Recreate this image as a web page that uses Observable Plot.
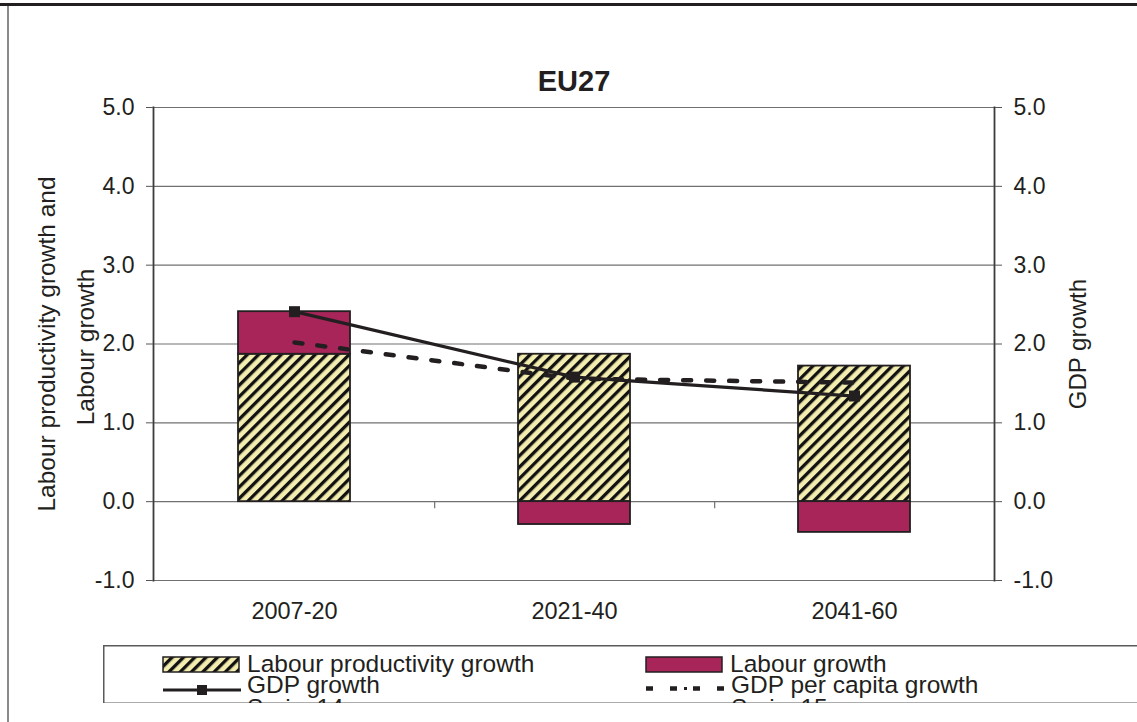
<!DOCTYPE html>
<html>
<head>
<meta charset="utf-8">
<script src="https://cdn.jsdelivr.net/npm/d3@7"></script>
<script src="https://cdn.jsdelivr.net/npm/@observablehq/plot@0.6"></script>
<style>
  html, body { margin: 0; padding: 0; background: #fff; }
  #wrap { position: relative; width: 1137px; height: 722px; overflow: hidden; background: #fff;
          font-family: "Liberation Sans", Arial, Helvetica, sans-serif; color: #231f20; }
  #topline { position: absolute; left: 0; top: 3px; width: 1137px; height: 3px; background: #231f20; }
  #leftline { position: absolute; left: 7px; top: 6px; width: 2px; height: 716px; background: #8a8a8a; }
  #chart { position: absolute; left: 0; top: 0; }
  #legend { position: absolute; left: 103px; top: 645px; }
</style>
</head>
<body>
<div id="wrap">
  <div id="topline"></div>
  <div id="leftline"></div>
  <div id="chart"></div>
  <div id="legend"></div>
</div>
<script>
// ---- data ----
const categories = ["2007-20", "2021-40", "2041-60"];
const productivityGrowth = [1.87, 1.87, 1.72];
const labourGrowth = [0.54, -0.29, -0.39];
const gdpGrowth = [2.41, 1.58, 1.34];
const gdpPerCapitaGrowth = [2.02, 1.56, 1.51];
const yTicks = [-1, 0, 1, 2, 3, 4, 5];
const seriesNames = ["Labour productivity growth", "Labour growth", "GDP growth", "GDP per capita growth"];
const hiddenSeries = ["Series14", "Series15"];
const chartTitle = "EU27";
const leftTitleLines = ["Labour productivity growth and", "Labour growth"];
const rightTitle = "GDP growth";

// ---- styles ----
const FONT = '"Liberation Sans", Arial, Helvetica, sans-serif';
const INK = "#231f20";
const HATCH_BG = "#f3eeb0";
const CRIMSON = "#a8255a";
const GRID = "#707070";

// ---- tables built from the arrays ----
const barRows = categories.flatMap((c, i) => [
  {cat: c, series: seriesNames[0], value: productivityGrowth[i]},
  {cat: c, series: seriesNames[1], value: labourGrowth[i]}
]);
const gdpRows = categories.map((c, i) => ({cat: c, value: gdpGrowth[i]}));
const pcRows = categories.map((c, i) => ({cat: c, value: gdpPerCapitaGrowth[i]}));

const W = 1137, H = 640, mL = 153, mR = 143, mT = 107, mB = 60;
const step = (W - mL - mR) / categories.length;
const fmt = d => d.toFixed(1);

const plot = Plot.plot({
  width: W, height: H,
  marginLeft: mL, marginRight: mR, marginTop: mT, marginBottom: mB,
  style: {fontFamily: FONT, fontSize: "23px", color: INK, background: "transparent", overflow: "visible"},
  x: {domain: categories, paddingInner: 0.6, paddingOuter: 0.3, axis: null},
  y: {domain: [-1, 5], axis: null},
  color: {domain: seriesNames.slice(0, 2), range: ["url(#hatch)", CRIMSON]},
  marks: [
    Plot.ruleY(yTicks, {stroke: GRID, strokeWidth: 1.2}),
    Plot.barY(barRows, Plot.stackY({x: "cat", y: "value", fill: "series", stroke: INK, strokeWidth: 1.8})),
    Plot.ruleX(categories.slice(0, -1), {x: d => d, y1: 0, y2: -0.09, dx: step / 2, stroke: GRID, strokeWidth: 1.2}),
    Plot.frame({anchor: "left", stroke: "#3c3c3c", strokeWidth: 1.8}),
    Plot.frame({anchor: "right", stroke: "#3c3c3c", strokeWidth: 1.8}),
    Plot.axisY({anchor: "left", ticks: yTicks, tickFormat: fmt, tickSize: 7, tickPadding: 12, label: null, stroke: "#555", fontSize: 23}),
    Plot.axisY({anchor: "right", ticks: yTicks, tickFormat: fmt, tickSize: 7, tickPadding: 12, label: null, stroke: "#555", fontSize: 23}),
    Plot.axisX({anchor: "bottom", tickSize: 0, tickPadding: 22, label: null, fontSize: 23.5}),
    Plot.line(pcRows, {x: "cat", y: "value", stroke: INK, strokeWidth: 4.5, strokeDasharray: "8,15"}),
    Plot.line(gdpRows, {x: "cat", y: "value", stroke: INK, strokeWidth: 3.2}),
    Plot.dot(gdpRows, {x: "cat", y: "value", symbol: "square", r: 6.2, fill: INK, stroke: null}),
    Plot.text([chartTitle], {frameAnchor: "top", dy: -37, fontWeight: "bold", fontSize: 29, fill: INK}),
    Plot.text([leftTitleLines[0]], {frameAnchor: "left", textAnchor: "middle", rotate: -90, dx: -106, fontSize: 24.5, fill: INK}),
    Plot.text([leftTitleLines[1]], {frameAnchor: "left", textAnchor: "middle", rotate: -90, dx: -67, dy: 3, fontSize: 24.5, fill: INK}),
    Plot.text([rightTitle], {frameAnchor: "right", textAnchor: "middle", rotate: -90, dx: 84, fontSize: 24, fill: INK})
  ]
});

const NS = "http://www.w3.org/2000/svg";
function hatchDefs(id) {
  const defs = document.createElementNS(NS, "defs");
  defs.innerHTML = `<pattern id="${id}" patternUnits="userSpaceOnUse" width="8" height="8" patternTransform="rotate(45)">
      <rect width="8" height="8" fill="${HATCH_BG}"/><rect width="3.3" height="8" fill="#111"/></pattern>`;
  return defs;
}
plot.prepend(hatchDefs("hatch"));
document.getElementById("chart").appendChild(plot);

// ---- legend ----
const lg = document.createElementNS(NS, "svg");
lg.setAttribute("width", 1034);
lg.setAttribute("height", 62);
lg.setAttribute("font-family", FONT);
lg.appendChild(hatchDefs("hatchL"));
const defs2 = document.createElementNS(NS, "defs");
defs2.innerHTML = `<clipPath id="lgclip"><rect x="0" y="0" width="1034" height="58"/></clipPath>`;
lg.appendChild(defs2);
const g = document.createElementNS(NS, "g");
g.setAttribute("clip-path", "url(#lgclip)");
lg.appendChild(g);
function el(tag, attrs, text) {
  const e = document.createElementNS(NS, tag);
  for (const k in attrs) e.setAttribute(k, attrs[k]);
  if (text != null) e.textContent = text;
  g.appendChild(e);
  return e;
}
const LF = 24.5;
el("rect", {x: 0.75, y: 0.75, width: 1100, height: 57.5, fill: "#fff", stroke: "#5a5a5a", "stroke-width": 1.5});
// row 1
el("rect", {x: 60, y: 12, width: 76, height: 15, fill: "url(#hatchL)", stroke: INK, "stroke-width": 1.5});
el("text", {x: 144, y: 27, "font-size": LF, fill: INK}, seriesNames[0]);
el("rect", {x: 543, y: 12, width: 76, height: 15, fill: CRIMSON, stroke: INK, "stroke-width": 1.5});
el("text", {x: 627, y: 27, "font-size": LF, fill: INK}, seriesNames[1]);
// row 2
el("line", {x1: 60, x2: 138, y1: 45, y2: 45, stroke: INK, "stroke-width": 3});
el("rect", {x: 94, y: 40, width: 10, height: 10, fill: INK});
el("text", {x: 144, y: 48, "font-size": LF, fill: INK}, seriesNames[2]);
el("line", {x1: 543, x2: 621, y1: 43.5, y2: 43.5, stroke: INK, "stroke-width": 4.5, "stroke-dasharray": "7,17,7,16"});
el("rect", {x: 581, y: 42, width: 3, height: 3, fill: INK});
el("text", {x: 628, y: 48, "font-size": LF, fill: INK}, seriesNames[3]);
// row 3 (cut off by the legend box, as in the source)
el("text", {x: 144, y: 71, "font-size": LF, fill: INK}, hiddenSeries[0]);
el("text", {x: 628, y: 71, "font-size": LF, fill: INK}, hiddenSeries[1]);
document.getElementById("legend").appendChild(lg);
</script>
</body>
</html>
